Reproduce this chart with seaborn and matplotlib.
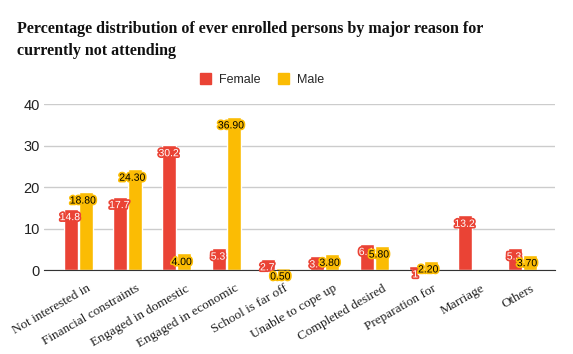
import pandas as pd
import matplotlib.pyplot as plt
import seaborn as sns
import matplotlib.patheffects as pe
import matplotlib.transforms as mtrans
from matplotlib.patches import Patch
import numpy as np

reasons = ['Not interested in', 'Financial constraints', 'Engaged in domestic',
           'Engaged in economic', 'School is far off', 'Unable to cope up',
           'Completed desired', 'Preparation for', 'Marriage', 'Others']
female = [14.8, 17.7, 30.2, 5.3, 2.7, 3.4, 6.4, 1.0, 13.2, 5.3]
male = [18.80, 24.30, 4.00, 36.90, 0.50, 3.80, 5.80, 2.20, np.nan, 3.70]
female_lbl = ['14.8', '17.7', '30.2', '5.3', '2.7', '3.4', '6.4', '1', '13.2', '5.3']
male_lbl = ['18.80', '24.30', '4.00', '36.90', '0.50', '3.80', '5.80', '2.20', '', '3.70']

df = pd.DataFrame({'Reason': reasons * 2,
                   'Value': female + male,
                   'Sex': ['Female'] * len(reasons) + ['Male'] * len(reasons)})

red, yellow = '#EA4335', '#FBBC04'
sns.set_style('white')
fig = plt.figure(figsize=(5.73, 3.54), dpi=100)
ax = fig.add_axes([0.077, 0.237, 0.892, 0.469])
sns.barplot(data=df, x='Reason', y='Value', hue='Sex', palette=[red, yellow],
            width=0.61, gap=0.07, ax=ax, legend=False, saturation=1)

ax.set_ylim(0, 40)
ax.set_xlim(-0.69, 9.67)
ax.set_yticks([0, 10, 20, 30, 40])
ax.yaxis.grid(True, color='#cccccc', linewidth=1)
ax.set_axisbelow(True)
for s in ['left', 'right', 'top']:
    ax.spines[s].set_visible(False)
ax.spines['bottom'].set_color('#333333')
ax.set_xlabel('')
ax.set_ylabel('')
ax.tick_params(axis='y', length=0, labelsize=10.5, labelcolor='#222222', pad=3)
ax.tick_params(axis='x', length=0, pad=9)
for t in ax.get_yticklabels():
    t.set_family('Liberation Sans')
ax.set_xticks(range(len(reasons)))
ax.set_xticklabels(reasons, rotation=30, ha='right', rotation_mode='anchor',
                   family='Liberation Serif', fontsize=9.5, color='#222222')
off = mtrans.ScaledTranslation(6 / 72, 0, fig.dpi_scale_trans)
for t in ax.get_xticklabels():
    t.set_transform(t.get_transform() + off)

# bar value labels, matched to bars by x position
def put_labels(cont, labels, color, edge, dx):
    for bar in cont:
        x = bar.get_x() + bar.get_width() / 2
        i = int(round(x))
        if not labels[i]:
            continue
        ax.annotate(labels[i], (x, bar.get_height()), xytext=(dx, -2.5),
                    textcoords='offset points', ha='center', va='top', fontsize=7.5,
                    color=color, family='Liberation Sans',
                    path_effects=[pe.withStroke(linewidth=2.5, foreground=edge)],
                    clip_on=False)

put_labels(ax.containers[0], female_lbl, 'white', red, -0.5)
put_labels(ax.containers[1], male_lbl, 'black', yellow, -2)

fig.text(0.03, 0.888, 'Percentage distribution of ever enrolled persons by major reason for\ncurrently not attending',
         family='Liberation Serif', fontweight='bold', fontsize=11.5, va='center',
         linespacing=1.5, color='#111111')

handles = [Patch(color=red, label='Female'), Patch(color=yellow, label='Male')]
fig.legend(handles=handles, loc='center', bbox_to_anchor=(0.457, 0.775), ncol=2,
           frameon=False, prop={'family': 'Liberation Sans', 'size': 9},
           handlelength=0.9, handleheight=0.9, columnspacing=1.4, handletextpad=0.6)

plt.savefig('out.png', dpi=100)
